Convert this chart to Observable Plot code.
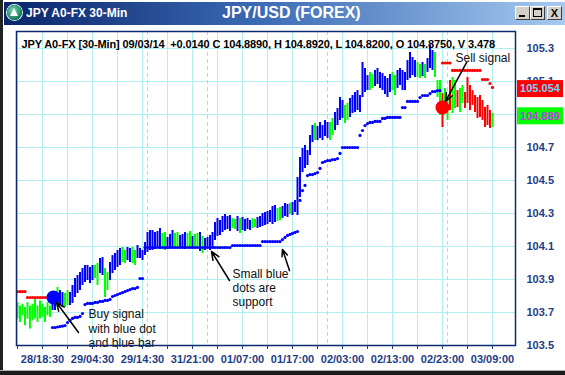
<!DOCTYPE html>
<html><head><meta charset="utf-8">
<script src="https://cdn.jsdelivr.net/npm/d3@7"></script>
<script src="https://cdn.jsdelivr.net/npm/@observablehq/plot@0.6"></script>
<style>
body{margin:0;background:#fff;}
#win{position:relative;width:565px;height:375px;overflow:hidden;background:#fff;font-family:"Liberation Sans",Arial,sans-serif;}
#chart{position:absolute;left:0;top:0;}
#chart svg{display:block;}
.tb{position:absolute;left:4px;top:2px;width:561px;height:23px;background:linear-gradient(to right,#0a246a 0%,#3a6ab4 45%,#a6caf0 100%);}
.icon{position:absolute;left:3px;top:3px;width:15px;height:15px;border-radius:50%;background:radial-gradient(circle at 40% 35%,#7fd9b0,#157a5c 70%);box-shadow:0 0 0 1px #dfe;}
.icon:after{content:"";position:absolute;left:3px;top:3px;border-left:4.5px solid transparent;border-right:4.5px solid transparent;border-bottom:8px solid #fff;}
.t1{position:absolute;left:22px;top:4px;color:#fff;font-weight:bold;font-size:12px;white-space:nowrap;}
.t2{position:absolute;left:218px;top:2px;color:#fff;font-weight:bold;font-size:16px;white-space:nowrap;}
.btn{position:absolute;top:4px;width:13px;height:12px;background:#d4d0c8;border:1px solid;border-color:#fff #404040 #404040 #fff;}
.bmin:after{content:"";position:absolute;left:3px;top:8px;width:6px;height:2px;background:#000;}
.bmax:after{content:"";position:absolute;left:2px;top:1px;width:7px;height:6px;border:1px solid #000;border-top-width:2px;}
.bx{font-size:11px;font-weight:bold;line-height:12px;text-align:center;color:#000;}
.lb{position:absolute;left:0;top:0;width:3px;height:375px;background:#222;}
.bb{position:absolute;left:0;top:370px;width:565px;height:5px;background:#1a1a1a;border-top:1px solid #b0b0b0;}
</style>
</head><body>
<div id="win">
  <div id="chart"></div>
  <div class="tb">
    <div class="icon"></div>
    <span class="t1">JPY A0-FX 30-Min</span>
    <span class="t2">JPY/USD (FOREX)</span>
    <div class="btn bmin" style="left:511px"></div>
    <div class="btn bmax" style="left:526px"></div>
    <div class="btn bx" style="left:543px">X</div>
  </div>
  <div class="lb"></div>
  <div class="bb"></div>
</div>
<script>
// ---- data (30-min bars, indexed from the first bar) ----
const highs = [
 103.76,103.74,103.75,103.73,103.76,103.74,103.75,103.78,103.74,103.77,
 103.75,103.73,103.76,103.74,103.785,103.803,103.852,103.833,103.821,103.815,
 103.833,103.821,103.864,103.906,103.924,103.942,103.967,103.985,103.985,103.973,
 103.985,103.985,103.997,104.027,104.033,103.967,103.942,104.003,104.045,104.058,
 104.076,104.088,104.094,104.076,104.094,104.088,104.094,104.076,104.106,104.088,
 104.076,104.124,104.185,104.197,104.197,104.185,104.191,104.209,104.179,104.185,
 104.155,104.173,104.197,104.179,104.185,104.167,104.173,104.185,104.179,104.191,
 104.161,104.173,104.179,104.185,104.161,104.148,104.155,104.167,104.185,104.245,
 104.270,104.258,104.282,104.294,104.282,104.288,104.270,104.264,104.282,104.270,
 104.276,104.264,104.270,104.258,104.270,104.264,104.276,104.282,104.300,104.306,
 104.312,104.318,104.342,104.348,104.330,104.336,104.342,104.361,104.355,104.361,
 104.367,104.379,104.518,104.639,104.694,104.712,104.682,104.773,104.833,104.845,
 104.827,104.852,104.833,104.864,104.852,104.852,104.876,104.912,104.936,105.003,
 104.985,104.955,104.967,104.997,105.015,105.033,105.045,105.015,105.215,105.179,
 105.136,105.155,105.142,105.167,105.179,105.155,105.148,105.130,105.118,105.142,
 105.155,105.136,105.167,105.179,105.167,105.155,105.227,105.276,105.245,105.227,
 105.215,105.203,105.215,105.203,105.239,105.318,105.288,105.276,105.106,105.106,
 105.027,105.058,105.003,105.106,105.124,105.106,105.045,105.058,105.076,105.033,
 105.124,105.076,105.045,105.015,105.003,105.015,104.985,104.942,104.955,104.924,
 104.906];
const lows = [
 103.66,103.64,103.68,103.62,103.66,103.60,103.65,103.66,103.64,103.66,
 103.67,103.64,103.68,103.67,103.712,103.712,103.730,103.742,103.730,103.730,
 103.742,103.742,103.755,103.791,103.815,103.833,103.864,103.882,103.894,103.876,
 103.894,103.906,103.864,103.936,103.924,103.791,103.833,103.894,103.936,103.955,
 103.973,103.985,104.003,103.997,104.015,104.003,103.997,103.985,104.027,104.027,
 104.015,104.045,104.064,104.076,104.076,104.082,104.088,104.088,104.088,104.076,
 104.082,104.088,104.094,104.088,104.082,104.088,104.088,104.082,104.094,104.088,
 104.088,104.082,104.088,104.070,104.058,104.076,104.088,104.076,104.088,104.136,
 104.161,104.167,104.185,104.197,104.203,104.191,104.209,104.203,104.191,104.179,
 104.197,104.191,104.203,104.197,104.209,104.215,104.209,104.215,104.221,104.227,
 104.233,104.245,104.233,104.245,104.252,104.258,104.270,104.282,104.276,104.294,
 104.288,104.306,104.288,104.397,104.548,104.573,104.591,104.652,104.730,104.742,
 104.742,104.755,104.742,104.767,104.755,104.742,104.773,104.803,104.833,104.864,
 104.876,104.845,104.864,104.882,104.906,104.912,104.924,104.912,105.003,105.033,
 105.045,105.045,105.058,105.070,105.082,105.058,105.045,105.021,105.003,105.033,
 105.045,105.015,105.058,105.076,105.045,105.045,105.106,105.118,105.136,105.124,
 105.124,105.118,105.130,105.118,105.155,105.179,105.167,105.124,105.003,104.894,
 104.821,104.924,104.864,104.924,104.906,104.936,104.942,104.912,104.967,104.936,
 104.967,104.924,104.955,104.912,104.876,104.882,104.864,104.821,104.833,104.815,
 104.821];
// bar colour codes: g = green, b = blue, r = red
const barColors = ["gggggggggg","ggggbbgbbg","gbbbbbbbbb","bggbbggbbb","bbggbbggbb",
 "bbbbbbbbgg","bbbggbbbgg","bggbgbbbbb","bbbbbbggbg","bbbbggbbbb","bbbbggbbbg",
 "bbbbbbbbbg","bbbbbggbbb","bggbbbbbbb","bggbbbbbbb","ggbbbbbbbb","ggbgbbbggg",
 "rggrggrggr","rrrrrrrrrr","g"].join("");
// blue support dots, from bar 14 to bar 169
const supportStart = 14;
const support = [
 103.609,103.609,103.612,103.615,103.618,103.621,103.639,103.652,103.664,103.670,
 103.670,103.676,103.694,103.748,103.755,103.755,103.755,103.761,103.761,103.767,
 103.767,103.773,103.773,103.779,103.797,103.803,103.809,103.815,103.821,103.827,
 103.833,103.839,103.845,103.845,103.852,103.906,103.906,104.094,104.094,104.094,
 104.094,104.094,104.094,104.094,104.094,104.094,104.094,104.094,104.094,104.094,
 104.094,104.094,104.094,104.094,104.094,104.094,104.094,104.094,104.094,104.094,
 104.094,104.094,104.094,104.094,104.094,104.094,104.094,104.094,104.094,104.094,
 104.094,104.094,104.106,104.106,104.106,104.106,104.106,104.106,104.106,104.106,
 104.106,104.106,104.106,104.106,104.130,104.130,104.130,104.130,104.130,104.130,
 104.130,104.130,104.142,104.155,104.167,104.173,104.179,104.185,104.191,104.379,
 104.439,104.470,104.530,104.536,104.536,104.542,104.548,104.573,104.609,104.615,
 104.621,104.621,104.627,104.627,104.633,104.664,104.700,104.700,104.700,104.700,
 104.700,104.700,104.700,104.773,104.803,104.833,104.845,104.852,104.852,104.858,
 104.858,104.858,104.876,104.876,104.882,104.882,104.882,104.882,104.882,104.882,
 104.942,104.942,104.979,104.979,104.979,104.979,104.979,105.003,105.015,105.015,
 105.015,105.027,105.039,105.039,105.045,105.045];
// red resistance dots: before the buy signal (bars 0-13) and after the sell signal (bars 170-190)
const resistBeforeStart = 0;
const resistBefore = [103.827,103.827,103.827,103.827,103.791,103.791,103.791,103.791,103.791,103.791,103.791,103.791,103.791,103.791];
const resistAfterStart = 170;
const resistAfter = [105.212,105.212,105.212,105.212,105.167,105.167,105.167,105.167,105.167,105.167,105.167,105.167,105.167,105.167,105.167,105.167,105.112,105.112,105.112,105.088,105.064];
// signals
const signalBar = [14.4, 170];
const signalPrice = [103.791, 104.942];
const signalKind = ["buy", "sell"];
// axes
const yTicks = [103.5,103.7,103.9,104.1,104.3,104.5,104.7,104.9,105.1,105.3];
const xTickBars = [0,10,20,30,40,50,60,70,80,90,100,110,120,130,140,150,160,170,180,190];
const xLabelBars = [10,30,50,70,90,110,130,150,170,190];
const xLabels = ["28/18:30","29/04:30","29/14:30","31/21:00","01/07:00","01/17:00","02/03:00","02/13:00","02/23:00","03/09:00"];
const daySeparators = [52, 76, 124, 172];
// last values tags
const tagValues = [105.054, 104.889];
const tagKinds = ["stop", "close"];
// header
const header = "JPY A0-FX [30-Min] 09/03/14  +0.0140 C 104.8890, H 104.8920, L 104.8200, O 104.8750, V 3.478";
// annotations
const noteTexts = ["Buy signal\nwith blue dot\nand blue bar", "Small blue\ndots are\nsupport", "Sell signal"];
const noteBar = [28.4, 86, 175.2];
const notePrice = [103.727, 103.973, 105.278];
const arrowFromBar = [24.4, 84.8, 108.8, 179.6];
const arrowFromPrice = [103.579, 103.894, 103.955, 105.215];
const arrowToBar = [15.6, 77.6, 106, 171.2];
const arrowToPrice = [103.761, 104.070, 104.082, 104.979];

// ---- build tables ----
const COL = {g: "#00ff00", b: "#0000ff", r: "#ff0000"};
const NAVY = "#1d3d86";
const GRID = "#b2f0f0";
const bars = highs.map((h, i) => ({i, hi: h, lo: lows[i], c: barColors[i]}));
const supportPts = support.map((v, k) => ({i: supportStart + k, v}));
const resistPts = resistBefore.map((v, k) => ({i: resistBeforeStart + k, v}))
  .concat(resistAfter.map((v, k) => ({i: resistAfterStart + k, v})));
const signals = signalBar.map((b, k) => ({i: b, v: signalPrice[k], kind: signalKind[k]}));
const notes = noteTexts.map((t, k) => ({t, i: noteBar[k], v: notePrice[k]}));
const arrows = arrowFromBar.map((b, k) => ({x1: b, y1: arrowFromPrice[k], x2: arrowToBar[k], y2: arrowToPrice[k]}));
const labelByBar = new Map(xLabelBars.map((b, k) => [b, xLabels[k]]));

const chart = Plot.plot({
  width: 565, height: 375,
  marginLeft: 16, marginRight: 50, marginTop: 31, marginBottom: 30,
  style: {fontFamily: "'Liberation Sans', Arial, sans-serif", background: "transparent", overflow: "visible"},
  x: {domain: [-0.4, 199.2], label: null},
  y: {domain: [103.5, 105.403], label: null},
  marks: [
    Plot.gridY(yTicks, {stroke: GRID, strokeOpacity: 1}),
    Plot.gridX(xTickBars, {stroke: GRID, strokeOpacity: 1}),
    Plot.ruleX(daySeparators, {stroke: "#9fe3e8", strokeDasharray: "4,3"}),
    Plot.ruleX(bars, {x: "i", y1: "lo", y2: "hi", stroke: d => COL[d.c], strokeWidth: 2}),
    Plot.dot(supportPts, {x: "i", y: "v", r: 1.6, fill: "#0000ff", stroke: null}),
    Plot.dot(resistPts, {x: "i", y: "v", r: 1.6, fill: "#ff0000", stroke: null}),
    Plot.dot(signals, {x: "i", y: "v", r: 7, fill: d => d.kind === "buy" ? "#0000ff" : "#ff0000", stroke: null}),
    Plot.text([header], {frameAnchor: "top-left", dx: 5, dy: 9, fontSize: 11, fontWeight: "bold", fill: "#000", textAnchor: "start", lineAnchor: "top"}),
    Plot.text(notes, {x: "i", y: "v", text: "t", fontSize: 12, fill: "#111", textAnchor: "start", lineAnchor: "top", lineHeight: 1.2}),
    Plot.arrow(arrows, {x1: "x1", y1: "y1", x2: "x2", y2: "y2", stroke: "#000", strokeWidth: 1.5, headLength: 9, headAngle: 45}),
    Plot.frame({stroke: "#0b2a6f", strokeWidth: 1.5}),
    Plot.axisX({ticks: xTickBars, tickSize: 4, tickPadding: 6, tickFormat: b => labelByBar.get(b) ?? "", fontSize: 11, fontWeight: "bold", color: NAVY}),
    Plot.axisY({ticks: yTicks, anchor: "right", tickSize: 0, tickPadding: 11, tickFormat: d => d.toFixed(1), fontSize: 11, fontWeight: "bold", color: NAVY})
  ]
});
document.getElementById("chart").appendChild(chart);

const svg = d3.select(chart);
// the header line is cut off before the right edge of the frame, as in the original
svg.append("defs").append("clipPath").attr("id", "hdrclip").attr("clipPathUnits", "userSpaceOnUse")
  .append("rect").attr("x", 16).attr("y", 31).attr("width", 481).attr("height", 30);
svg.selectAll("text").filter(function() { return this.textContent === header; }).each(function() {
  this.setAttribute("xml:space", "preserve");
  this.style.whiteSpace = "pre";
  const markGroup = this.parentNode;
  markGroup.style.letterSpacing = "-0.12px";
  const wrap = document.createElementNS("http://www.w3.org/2000/svg", "g");
  wrap.setAttribute("clip-path", "url(#hdrclip)");
  markGroup.parentNode.insertBefore(wrap, markGroup);
  wrap.appendChild(markGroup);
});

// price tags on the right axis, placed with the chart's y scale
const ys = chart.scale("y");
const tags = svg.append("g");
tagValues.forEach((v, k) => {
  const y = ys.apply(v);
  const stop = tagKinds[k] === "stop";
  tags.append("rect").attr("x", 517).attr("y", y - 8.5).attr("width", 46).attr("height", 17)
    .attr("fill", stop ? "#ff0000" : "#00ff00");
  tags.append("text").attr("x", 540).attr("y", y).attr("dy", "0.35em").attr("text-anchor", "middle")
    .attr("font-size", 11).attr("font-weight", "bold").attr("fill", stop ? "#6fd8ff" : "#c43ae0")
    .text(v.toFixed(3));
});
</script>
</body></html>
